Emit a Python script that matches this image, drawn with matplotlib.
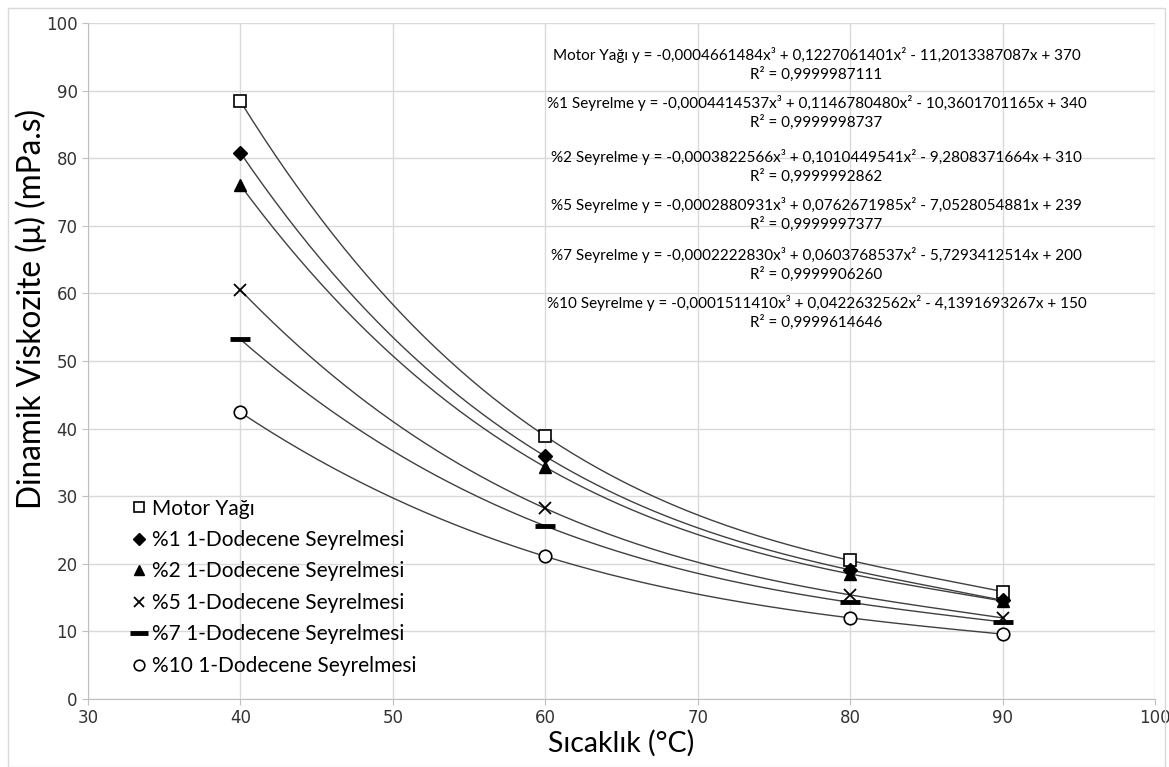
import numpy as np
import matplotlib
matplotlib.use("Agg")
import matplotlib.pyplot as plt
from matplotlib.patches import Rectangle

plt.rcParams['font.family'] = ['Lato', 'DejaVu Sans']

temps = [40, 60, 80, 90]
motor = [88.4, 38.9, 20.5, 15.9]
s1 = [80.8, 35.9, 19.1, 14.6]
s2 = [76.0, 34.3, 18.5, 14.5]
s5 = [60.5, 28.2, 15.4, 12.0]
s7 = [53.2, 25.6, 14.3, 11.4]
s10 = [42.4, 21.1, 12.0, 9.6]

labels = ["Motor Yağı", "%1 1-Dodecene Seyrelmesi", "%2 1-Dodecene Seyrelmesi",
          "%5 1-Dodecene Seyrelmesi", "%7 1-Dodecene Seyrelmesi", "%10 1-Dodecene Seyrelmesi"]

equations = [
    "Motor Yağı y = -0,0004661484x³ + 0,1227061401x² - 11,2013387087x + 370\nR² = 0,9999987111",
    "%1 Seyrelme y = -0,0004414537x³ + 0,1146780480x² - 10,3601701165x + 340\nR² = 0,9999998737",
    "%2 Seyrelme y = -0,0003822566x³ + 0,1010449541x² - 9,2808371664x + 310\nR² = 0,9999992862",
    "%5 Seyrelme y = -0,0002880931x³ + 0,0762671985x² - 7,0528054881x + 239\nR² = 0,9999997377",
    "%7 Seyrelme y = -0,0002222830x³ + 0,0603768537x² - 5,7293412514x + 200\nR² = 0,9999906260",
    "%10 Seyrelme y = -0,0001511410x³ + 0,0422632562x² - 4,1391693267x + 150\nR² = 0,9999614646",
]
eq_y = [96.4, 89.3, 81.3, 74.3, 66.9, 59.8]

series = [motor, s1, s2, s5, s7, s10]
styles = [
    dict(marker='s', mfc='white', mec='black', ms=9, mew=1.2),
    dict(marker='D', mfc='black', mec='black', ms=7, mew=1),
    dict(marker='^', mfc='black', mec='black', ms=9, mew=1),
    dict(marker='x', mfc='black', mec='black', ms=9, mew=1.3),
    dict(marker='_', mfc='black', mec='black', ms=15, mew=3.5),
    dict(marker='o', mfc='white', mec='black', ms=9, mew=1.2),
]

fig = plt.figure(figsize=(11.69, 7.67), dpi=100)
ax = fig.add_axes([88/1169, 1 - 699/767, (1155-88)/1169, (699-23)/767])

xs = np.linspace(40, 90, 200)
for ys, st, lab in zip(series, styles, labels):
    coef = np.polyfit(temps, ys, 3)
    ax.plot(xs, np.polyval(coef, xs), color='#404040', lw=1.0, zorder=2)
    ax.plot(temps, ys, linestyle='none', label=lab, zorder=3, **st)

for txt, yy in zip(equations, eq_y):
    ax.text(77.8, yy, txt, ha='center', va='top', fontsize=11.0, linespacing=1.3,
            multialignment='center', family=['Lato', 'DejaVu Sans'])

ax.set_xlim(30, 100)
ax.set_ylim(0, 100)
ax.set_xticks(range(30, 101, 10))
ax.set_yticks(range(0, 101, 10))
ax.grid(True, color='#d9d9d9', lw=1)
ax.set_axisbelow(True)
for s in ['top', 'right']:
    ax.spines[s].set_visible(False)
for s in ['left', 'bottom']:
    ax.spines[s].set_color('#bfbfbf')
ax.tick_params(colors='#bfbfbf', labelcolor='#333333', labelsize=12, length=4)
for t in ax.get_xticklabels() + ax.get_yticklabels():
    t.set_family('DejaVu Sans')

ax.set_xlabel("Sıcaklık (°C)", fontsize=20.5, labelpad=2)
fig.text(31/1169, 1 - 309/767, "Dinamik Viskozite (μ) (mPa.s)", rotation=90,
         ha='center', va='center', fontsize=22.8)

leg = ax.legend(loc='lower left', bbox_to_anchor=(0.03, 0.022), frameon=False,
                fontsize=15, handletextpad=0.15, labelspacing=0.55, handlelength=1.0,
                borderaxespad=0.0, markerscale=0.85)

fig.patches.append(Rectangle((8/1169, 0), (1165-8)/1169, 1 - 8/767, transform=fig.transFigure,
                             fill=False, edgecolor='#d9d9d9', lw=1))

fig.savefig("out.png", dpi=100)
